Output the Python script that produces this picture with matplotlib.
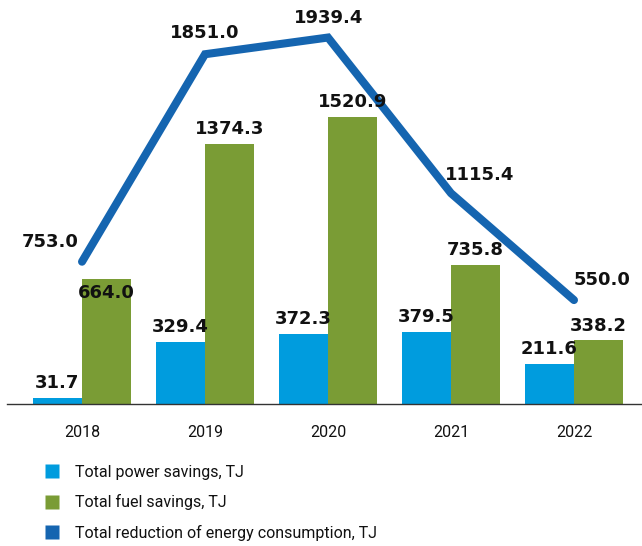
import matplotlib
matplotlib.use("Agg")
import matplotlib.pyplot as plt
from matplotlib.lines import Line2D
from matplotlib import font_manager

# Data
years = ["2018", "2019", "2020", "2021", "2022"]
power_savings = [31.7, 329.4, 372.3, 379.5, 211.6]
fuel_savings = [664.0, 1374.3, 1520.9, 735.8, 338.2]
total_reduction = [753.0, 1851.0, 1939.4, 1115.4, 550.0]

C_POWER = "#009cde"
C_FUEL = "#7a9c35"
C_TOTAL = "#1565b0"

names = {f.name for f in font_manager.fontManager.ttflist}
narrow = "Liberation Sans Narrow" if "Liberation Sans Narrow" in names else "Roboto"

fig = plt.figure(figsize=(6.42, 5.46), dpi=100)
ax = fig.add_axes([7 / 642, 142 / 546, 635 / 642, 404 / 546])

x = list(range(len(years)))
w = 0.4
ax.bar([i - w / 2 for i in x], power_savings, width=w, color=C_POWER)
ax.bar([i + w / 2 for i in x], fuel_savings, width=w, color=C_FUEL)
ax.plot(x, total_reduction, color=C_TOTAL, lw=5.8, solid_capstyle="round",
        solid_joinstyle="miter", zorder=3)

lab = dict(fontsize=13, fontweight="heavy", color="#111111",
           ha="center", va="center", textcoords="offset pixels")
for i, v in enumerate(power_savings):
    ax.annotate(f"{v:.1f}", (i - w / 2, v), xytext=(0, 15), **lab)
fuel_off = [(0, -14), (0, 15), (0, 15), (0, 15), (0, 14)]
for i, v in enumerate(fuel_savings):
    ax.annotate(f"{v:.1f}", (i + w / 2, v), xytext=fuel_off[i], **lab)
tot_off = [(-32, 20), (0, 21), (1, 20), (29, 18), (28, 20)]
for i, v in enumerate(total_reduction):
    ax.annotate(f"{v:.1f}", (i, v), xytext=tot_off[i], zorder=4, **lab)

ax.set_xlim(-0.61, 4.553)
ax.set_ylim(0, 2138)
ax.set_xticks(x)
ax.set_xticklabels(years, fontfamily=narrow, fontsize=11.5, color="#111111")
ax.tick_params(axis="x", length=0, pad=15)
ax.set_yticks([])
for s in ["top", "right", "left"]:
    ax.spines[s].set_visible(False)
ax.spines["bottom"].set_color("#333333")
ax.spines["bottom"].set_linewidth(1)

handles = [Line2D([], [], ls="", marker="s", ms=10, mec="none", mfc=c)
           for c in (C_POWER, C_FUEL, C_TOTAL)]
labels = ["Total power savings, TJ", "Total fuel savings, TJ",
          "Total reduction of energy consumption, TJ"]
fig.legend(handles, labels, loc="upper left", bbox_to_anchor=(36 / 642, 1 - 457 / 546),
           frameon=False, prop={"family": narrow, "size": 11.5}, handletextpad=0.95,
           labelspacing=0.9, handlelength=1.0, borderpad=0, labelcolor="#111111")

fig.savefig("out.png", dpi=100)
